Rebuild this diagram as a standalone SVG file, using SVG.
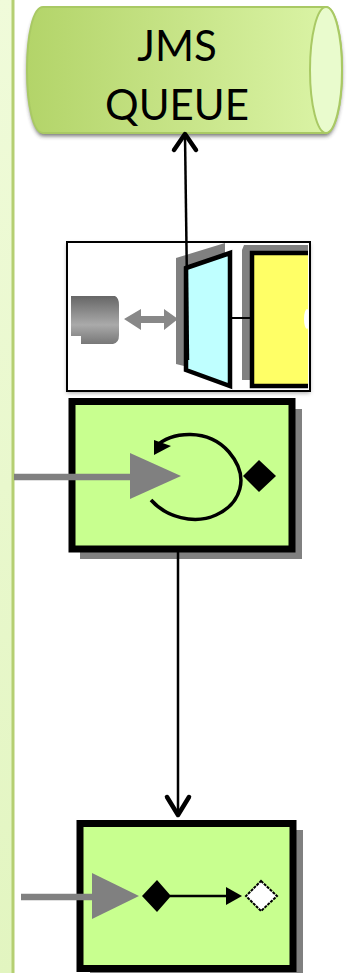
<svg xmlns="http://www.w3.org/2000/svg" width="352" height="973" viewBox="0 0 352 973">
<defs>
<linearGradient id="cyl" x1="0" x2="1" y1="0" y2="0"><stop offset="0" stop-color="#b3d469"/><stop offset="1" stop-color="#dcf5a8"/></linearGradient>
<linearGradient id="panel" x1="0" x2="0" y1="0" y2="1"><stop offset="0" stop-color="#f0fbda"/><stop offset="1" stop-color="#e2f5c0"/></linearGradient>
<linearGradient id="grey" x1="0" x2="0" y1="0" y2="1"><stop offset="0" stop-color="#666"/><stop offset="0.6" stop-color="#aaa"/><stop offset="1" stop-color="#777"/></linearGradient>
<filter id="soft" x="-10%" y="-10%" width="120%" height="125%"><feGaussianBlur stdDeviation="2"/></filter>
<filter id="s1" x="-10%" y="-10%" width="120%" height="120%"><feGaussianBlur stdDeviation="0.5"/></filter>
<clipPath id="clip"><rect x="68" y="243" width="240" height="147"/></clipPath>
</defs>
<style>
.txt{font-family:Lato,"Liberation Sans",sans-serif;font-size:42px;fill:#000;text-anchor:middle}
.box{fill:#c8ff8f;stroke:#000;stroke-width:7}
.shadow{fill:#808080}
.greyline{stroke:#808080;fill:none}
.flow{stroke:#000;stroke-width:2.5;fill:none}
.head{stroke:#000;stroke-width:4.5;fill:none;stroke-linecap:round;stroke-linejoin:round}
</style>
<rect width="352" height="973" fill="#fff"/>
<g id="panel-lane"><rect x="-2" y="-2" width="15" height="977" fill="url(#panel)" stroke="#b5cf72" stroke-width="3"/></g>
<g id="jms-queue">
<path d="M43 12H326C335 12 342 40 342 72S335 136 326 136H43C33 136 27 104 27 72S33 12 43 12Z" fill="#333" opacity=".7" filter="url(#soft)"/>
<path d="M43 7H326C335 7 342 35 342 70S335 133 326 133H43C33 133 27 105 27 70S33 7 43 7Z" fill="url(#cyl)" stroke="#a9c964" stroke-width="2"/>
<ellipse cx="326" cy="70" rx="16" ry="63" fill="#e9fbcd" stroke="#a9c964" stroke-width="2"/>
<text class="txt" x="177" y="61">JMS</text>
<text class="txt" x="177" y="120">QUEUE</text>
</g>
<g id="jms-endpoint">
<rect x="67" y="242" width="243" height="149" fill="#666" opacity=".6" filter="url(#soft)" transform="translate(0,2)"/>
<rect x="67" y="242" width="243" height="149" fill="#fff" stroke="#000" stroke-width="2"/>
<g clip-path="url(#clip)" filter="url(#s1)">
<path d="M71 296H115Q119 298 119 305V335Q119 343 113 344H81V336H71Z" fill="url(#grey)"/>
<path d="M124 319L141 309V316H164V309L178 319L164 330V323H141V330Z" fill="#888"/>
<path d="M176 258L225 243V255L184 268V366L176 364Z" fill="#808080"/>
<path d="M244 245H308V253H252V380H242V250Z" fill="#808080"/>
<path d="M186 268L230 253V386L186 370Z" fill="#bfffff" stroke="#000" stroke-width="4.500"/>
<line x1="231" y1="318" x2="252" y2="318" stroke="#000" stroke-width="2"/>
<rect x="252" y="253" width="70" height="133" fill="#ffff66" stroke="#000" stroke-width="4.500"/>
<ellipse cx="307" cy="319" rx="3" ry="10" fill="#fff"/>
</g>
</g>
<g id="splitter">
<rect class="shadow" x="80" y="409" width="222" height="150"/>
<rect class="box" x="72" y="401.500" width="220" height="147.500"/>
<path d="M155 447C172 431 208 428 229 452C251 478 240 504 216 515C194 525 166 517 151 500" fill="none" stroke="#000" stroke-width="3.500"/>
<path d="M154 440V455L171 446Z" fill="#000"/>
<path d="M259 460L276 476L259 492L243 476Z" fill="#000"/>
</g>
<g id="filter-node">
<rect class="shadow" x="90" y="830" width="213" height="143"/>
<rect class="box" x="80" y="823.500" width="213" height="145"/>
<path d="M157 880L171 896L157 912L142 896Z" fill="#000"/>
<path d="M226 887L242 896L226 905Z" fill="#000"/>
<path d="M261 881L277 896L261 911L246 896Z" fill="#fff" stroke="#000" stroke-width="2" stroke-dasharray="3 1"/>
<line x1="170" y1="896" x2="230" y2="896" stroke="#000" stroke-width="2.500"/>
</g>
<g id="connectors">
<line class="flow" x1="188" y1="360" x2="185" y2="135"/>
<path class="head" d="M174 150L185 134L196 150"/>
<line class="flow" x1="178" y1="551" x2="178" y2="815"/>
<path class="head" d="M167 797L178 815L189 797"/>
<line class="greyline" x1="14" y1="477" x2="132" y2="477" stroke-width="6.500"/>
<path d="M130 453L181 476L130 499Z" fill="#808080"/>
<line class="greyline" x1="21" y1="897" x2="94" y2="897" stroke-width="6.500"/>
<path d="M92 873L139 896L92 919Z" fill="#808080"/>
</g>
</svg>
